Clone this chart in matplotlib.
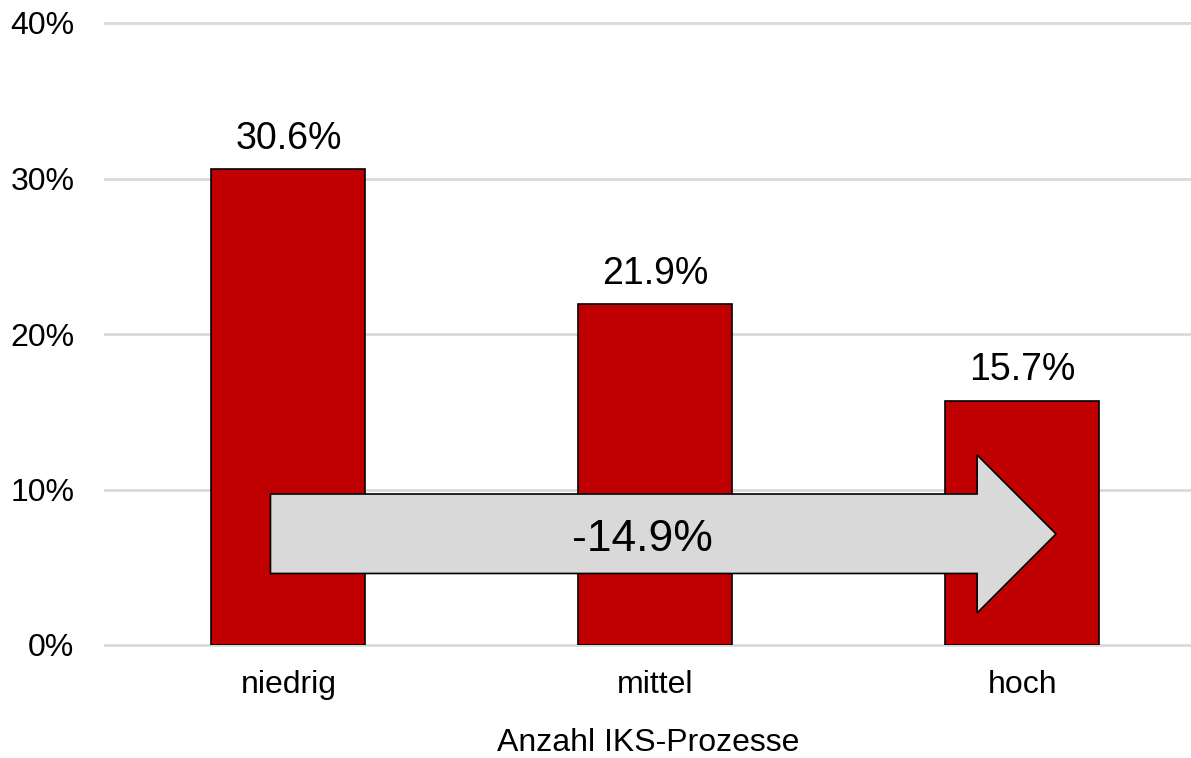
import matplotlib.pyplot as plt
from matplotlib.patches import Polygon
from matplotlib.ticker import FuncFormatter

plt.rcParams['font.family'] = ['Liberation Sans', 'DejaVu Sans']

# Anteil je Gruppe (in %)
kategorien = ["niedrig", "mittel", "hoch"]
werte = [30.6, 21.9, 15.7]
differenz = "-14.9%"

fig = plt.figure(figsize=(11.91, 7.58), dpi=100)
ax = fig.add_axes([105 / 1191, 113 / 758, 1086 / 1191, 622 / 758])

x = range(len(kategorien))
ax.bar(x, werte, width=0.42, color="#c00000", edgecolor="black", linewidth=1.2, zorder=3)

for xi, v in zip(x, werte):
    ax.annotate(f"{v:.1f}%", (xi, v), xytext=(0, 9), textcoords="offset points",
                ha="center", va="bottom", fontsize=27)

# Pfeil von niedrig nach hoch
pfeil = [(-0.049, 4.60), (1.877, 4.60), (1.877, 2.06), (2.092, 7.14),
         (1.877, 12.22), (1.877, 9.71), (-0.049, 9.71)]
ax.add_patch(Polygon(pfeil, closed=True, facecolor="#d9d9d9", edgecolor="black",
                     linewidth=1.2, zorder=4))
ax.text(0.965, 6.8, differenz, ha="center", va="center", fontsize=32, zorder=5)

ax.set_xlim(-0.5, 2.46)
ax.set_ylim(0, 40)
ax.set_yticks([0, 10, 20, 30, 40])
ax.yaxis.set_major_formatter(FuncFormatter(lambda v, p: f"{v:.0f}%"))
ax.set_xticks(list(x))
ax.set_xticklabels(kategorien)
ax.tick_params(axis="both", length=0, labelsize=23)
ax.tick_params(axis="x", pad=18)
ax.tick_params(axis="y", pad=22)

ax.grid(axis="y", color="#d9d9d9", linewidth=2, zorder=0)
for gl in ax.get_ygridlines():
    gl.set_clip_on(False)
for s in ax.spines.values():
    s.set_visible(False)

ax.set_xlabel("Anzahl IKS-Prozesse", fontsize=23, labelpad=20)

fig.savefig("out.png", dpi=100)
